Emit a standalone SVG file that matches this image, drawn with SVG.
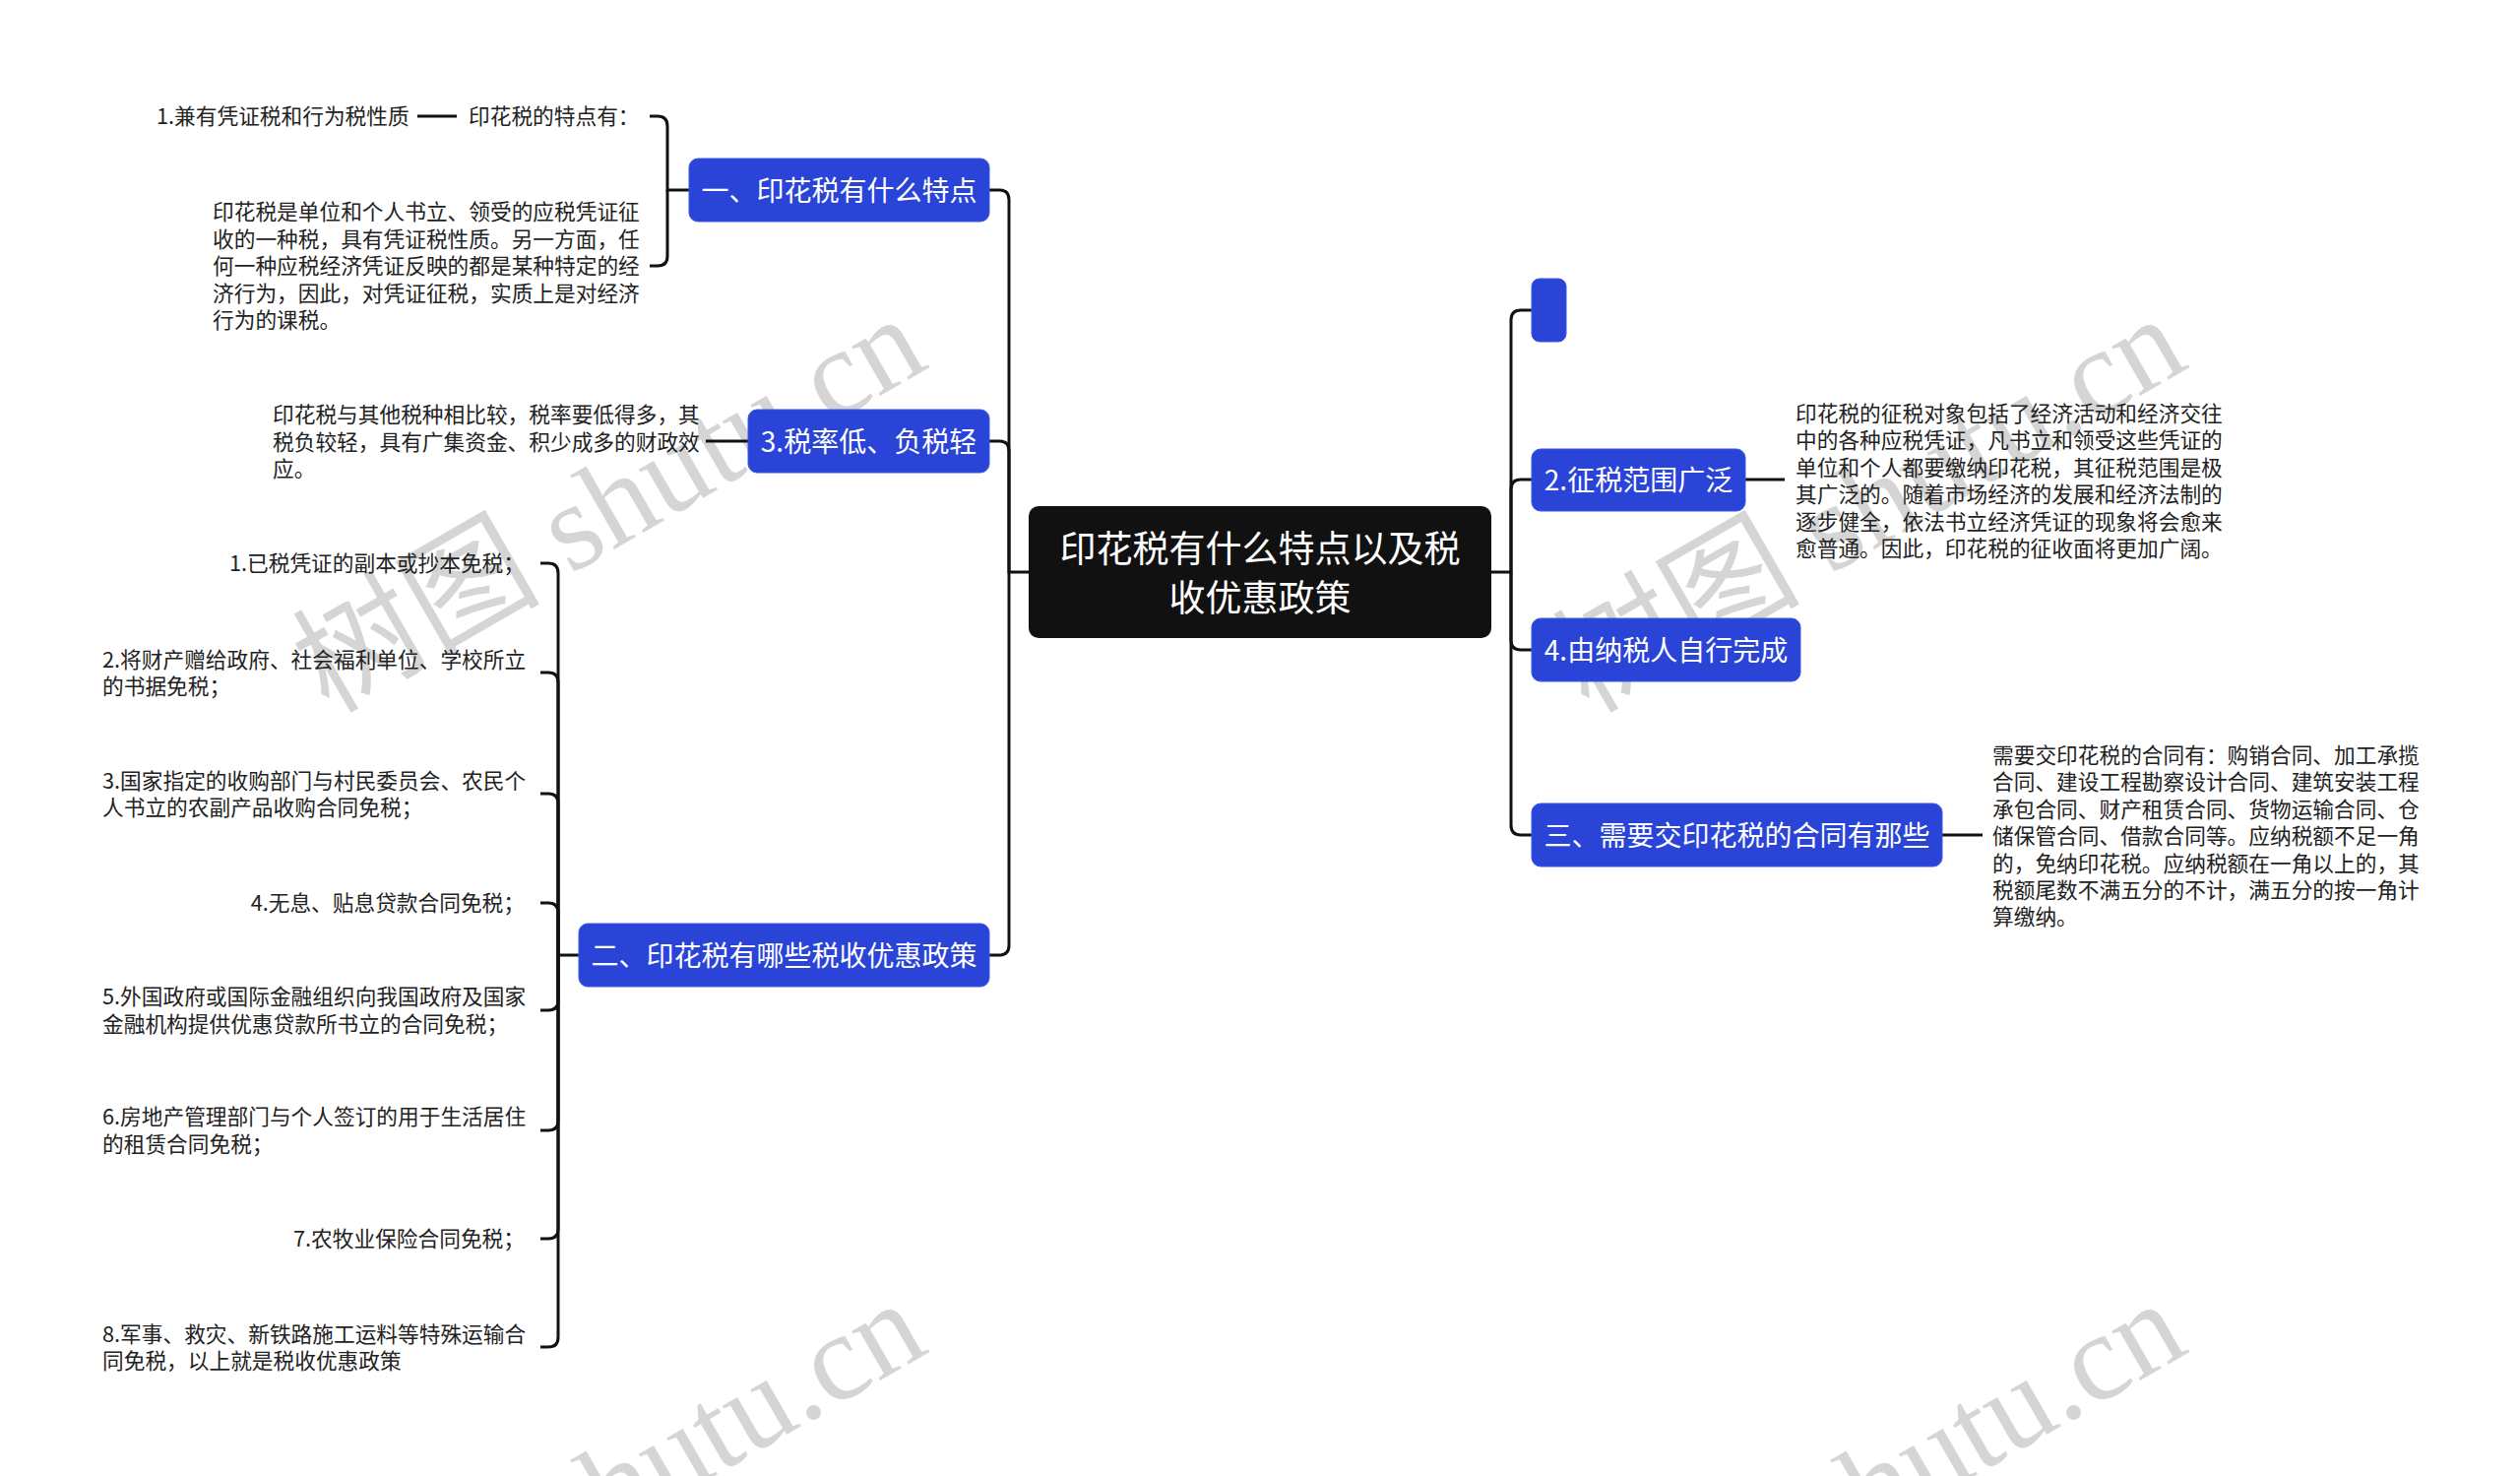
<svg xmlns="http://www.w3.org/2000/svg" width="2560" height="1499" viewBox="0 0 2560 1499">
<style>
.wm{font-family:'Liberation Serif','Noto Sans CJK SC',serif;font-size:126px;fill:#d5d5d5;}
.ct{font-family:'Noto Sans CJK SC','Noto Sans',sans-serif;font-size:37px;fill:#ffffff;text-anchor:middle;dominant-baseline:central;}
.bt{font-family:'Noto Sans CJK SC','Noto Sans',sans-serif;font-size:28px;fill:#ffffff;text-anchor:middle;dominant-baseline:central;}
.lt{font-family:'Noto Sans CJK SC','Noto Sans',sans-serif;font-size:21.7px;fill:#222222;dominant-baseline:central;}
.le{text-anchor:end;}
.blue{fill:#2a44d8;stroke:#3b57e0;stroke-width:1;}
.root{fill:#111111;}
.cn{fill:none;stroke:#111111;stroke-width:3;stroke-linecap:butt;}
</style>
<rect width="2560" height="1499" fill="#ffffff"/>
<g id="watermarks">
<text class="wm" text-anchor="end" x="946" y="372" transform="rotate(-30 946 372)">树图 shutu.cn</text>
<text class="wm" text-anchor="end" x="2226" y="372" transform="rotate(-30 2226 372)">树图 shutu.cn</text>
<text class="wm" text-anchor="end" x="946" y="1372" transform="rotate(-30 946 1372)">树图 shutu.cn</text>
<text class="wm" text-anchor="end" x="2226" y="1372" transform="rotate(-30 2226 1372)">树图 shutu.cn</text>
</g>
<g id="connectors">
<path class="cn" d="M1045,581 H1025 V203 Q1025,193 1015,193 H1005"/>
<path class="cn" d="M1025,581 V458 Q1025,448 1015,448 H1005"/>
<path class="cn" d="M1025,581 V960 Q1025,970 1015,970 H1005"/>
<path class="cn" d="M1515,581 H1535 V325 Q1535,315 1545,315 H1556"/>
<path class="cn" d="M1535,581 V497 Q1535,487 1545,487 H1556"/>
<path class="cn" d="M1535,581 V650 Q1535,660 1545,660 H1556"/>
<path class="cn" d="M1535,581 V838 Q1535,848 1545,848 H1556"/>
<path class="cn" d="M700,193 H678 V128 Q678,118 668,118 H660"/>
<path class="cn" d="M678,193 V260 Q678,270 668,270 H660"/>
<path class="cn" d="M464,118 H424"/>
<path class="cn" d="M760,448 H717"/>
<path class="cn" d="M588,970 H567 V582 Q567,572 557,572 H549"/>
<path class="cn" d="M567,970 V693 Q567,683 557,683 H549"/>
<path class="cn" d="M567,970 V816 Q567,806 557,806 H549"/>
<path class="cn" d="M567,970 V927 Q567,917 557,917 H549"/>
<path class="cn" d="M567,970 V1016 Q567,1026 557,1026 H549"/>
<path class="cn" d="M567,970 V1138 Q567,1148 557,1148 H549"/>
<path class="cn" d="M567,970 V1248 Q567,1258 557,1258 H549"/>
<path class="cn" d="M567,970 V1358 Q567,1368 557,1368 H549"/>
<path class="cn" d="M1773,487 H1813"/>
<path class="cn" d="M1973,848 H2014"/>
</g>
<g id="root">
<rect class="root" x="1045" y="514" width="470" height="134" rx="10"/>
<text class="ct" x="1280" y="554.5">印花税有什么特点以及税</text>
<text class="ct" x="1280" y="604.5">收优惠政策</text>
</g>
<g id="n-tedian">
<rect class="blue" x="700" y="161" width="305" height="64" rx="9"/>
<text class="bt" x="852.5" y="191.5">一、印花税有什么特点</text>
</g>
<g id="n-tedianyou">
<text class="lt" x="476" y="116.5">印花税的特点有：</text>
</g>
<g id="n-jianyou">
<text class="lt" x="159" y="116.5">1.兼有凭证税和行为税性质</text>
</g>
<g id="n-tedian-desc">
<text class="lt" x="216" y="213.5">印花税是单位和个人书立、领受的应税凭证征</text>
<text class="lt" x="216" y="241">收的一种税，具有凭证税性质。另一方面，任</text>
<text class="lt" x="216" y="268.5">何一种应税经济凭证反映的都是某种特定的经</text>
<text class="lt" x="216" y="296">济行为，因此，对凭证征税，实质上是对经济</text>
<text class="lt" x="216" y="323.5">行为的课税。</text>
</g>
<g id="n-shuilv">
<rect class="blue" x="760" y="416" width="245" height="64" rx="9"/>
<text class="bt" x="882.5" y="446.5">3.税率低、负税轻</text>
</g>
<g id="n-shuilv-desc">
<text class="lt" x="277" y="419.5">印花税与其他税种相比较，税率要低得多，其</text>
<text class="lt" x="277" y="447">税负较轻，具有广集资金、积少成多的财政效</text>
<text class="lt" x="277" y="474.5">应。</text>
</g>
<g id="n-youhui">
<rect class="blue" x="588" y="938" width="417" height="64" rx="9"/>
<text class="bt" x="796.5" y="968.5">二、印花税有哪些税收优惠政策</text>
</g>
<g id="n-yh1"><text class="lt le" x="533" y="570.5">1.已税凭证的副本或抄本免税；</text></g>
<g id="n-yh2">
<text class="lt" x="104" y="668.5">2.将财产赠给政府、社会福利单位、学校所立</text>
<text class="lt" x="104" y="695.5">的书据免税；</text>
</g>
<g id="n-yh3">
<text class="lt" x="104" y="791.5">3.国家指定的收购部门与村民委员会、农民个</text>
<text class="lt" x="104" y="818.5">人书立的农副产品收购合同免税；</text>
</g>
<g id="n-yh4"><text class="lt le" x="533" y="915.5">4.无息、贴息贷款合同免税；</text></g>
<g id="n-yh5">
<text class="lt" x="104" y="1010.5">5.外国政府或国际金融组织向我国政府及国家</text>
<text class="lt" x="104" y="1038">金融机构提供优惠贷款所书立的合同免税；</text>
</g>
<g id="n-yh6">
<text class="lt" x="104" y="1132.5">6.房地产管理部门与个人签订的用于生活居住</text>
<text class="lt" x="104" y="1160.5">的租赁合同免税；</text>
</g>
<g id="n-yh7"><text class="lt le" x="533" y="1256.5">7.农牧业保险合同免税；</text></g>
<g id="n-yh8">
<text class="lt" x="104" y="1353.5">8.军事、救灾、新铁路施工运料等特殊运输合</text>
<text class="lt" x="104" y="1380.5">同免税，以上就是税收优惠政策</text>
</g>
<g id="n-empty">
<rect class="blue" x="1556" y="283" width="35" height="64" rx="8"/>
</g>
<g id="n-fanwei">
<rect class="blue" x="1556" y="456" width="217" height="63" rx="9"/>
<text class="bt" x="1664.5" y="486">2.征税范围广泛</text>
</g>
<g id="n-fanwei-desc">
<text class="lt" x="1824" y="418.5">印花税的征税对象包括了经济活动和经济交往</text>
<text class="lt" x="1824" y="445.9">中的各种应税凭证，凡书立和领受这些凭证的</text>
<text class="lt" x="1824" y="473.3">单位和个人都要缴纳印花税，其征税范围是极</text>
<text class="lt" x="1824" y="500.7">其广泛的。随着市场经济的发展和经济法制的</text>
<text class="lt" x="1824" y="528.1">逐步健全，依法书立经济凭证的现象将会愈来</text>
<text class="lt" x="1824" y="555.5">愈普通。因此，印花税的征收面将更加广阔。</text>
</g>
<g id="n-zixing">
<rect class="blue" x="1556" y="628" width="273" height="64" rx="9"/>
<text class="bt" x="1692.5" y="658.5">4.由纳税人自行完成</text>
</g>
<g id="n-hetong">
<rect class="blue" x="1556" y="816" width="417" height="64" rx="9"/>
<text class="bt" x="1764.5" y="846.5">三、需要交印花税的合同有那些</text>
</g>
<g id="n-hetong-desc">
<text class="lt" x="2024" y="765.5">需要交印花税的合同有：购销合同、加工承揽</text>
<text class="lt" x="2024" y="792.9">合同、建设工程勘察设计合同、建筑安装工程</text>
<text class="lt" x="2024" y="820.3">承包合同、财产租赁合同、货物运输合同、仓</text>
<text class="lt" x="2024" y="847.7">储保管合同、借款合同等。应纳税额不足一角</text>
<text class="lt" x="2024" y="875.1">的，免纳印花税。应纳税额在一角以上的，其</text>
<text class="lt" x="2024" y="902.5">税额尾数不满五分的不计，满五分的按一角计</text>
<text class="lt" x="2024" y="929.9">算缴纳。</text>
</g>
</svg>
